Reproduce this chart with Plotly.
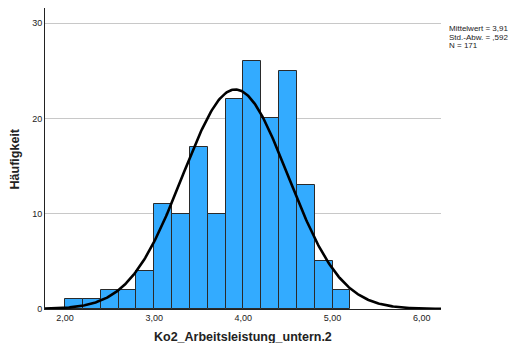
import numpy as np
import plotly.graph_objects as go

bin_starts = [2.0, 2.2, 2.4, 2.6, 2.8, 3.0, 3.2, 3.4, 3.6, 3.8, 4.0, 4.2, 4.4, 4.6, 4.8, 5.0]
counts = [1, 1, 2, 2, 4, 11, 10, 17, 10, 22, 26, 20, 25, 13, 5, 2]
bin_width = 0.2
mean = 3.91
sd = 0.592
n = 171
x_ticks = [2, 3, 4, 5, 6]
x_tick_labels = ["2,00", "3,00", "4,00", "5,00", "6,00"]
y_ticks = [0, 10, 20, 30]
stats_lines = ["Mittelwert = 3,91", "Std.-Abw. = ,592", "N = 171"]
x_title = "Ko2_Arbeitsleistung_untern.2"
y_title = "Häufigkeit"

x_range = [1.775, 6.217]
y_range = [0, 31.6]

centers = [s + bin_width / 2 for s in bin_starts]
xc = np.linspace(x_range[0], x_range[1], 400)
yc = n * bin_width / (sd * np.sqrt(2 * np.pi)) * np.exp(-0.5 * ((xc - mean) / sd) ** 2)

fig = go.Figure()
fig.add_trace(go.Bar(x=centers, y=counts, width=bin_width,
                     marker=dict(color="#33ABFF", line=dict(color="#2a2a2a", width=1)),
                     showlegend=False, hoverinfo="skip"))
fig.add_trace(go.Scatter(x=xc, y=yc, mode="lines", line=dict(color="black", width=2.6),
                         showlegend=False, hoverinfo="skip"))

annots = []
for i, t in enumerate(stats_lines):
    annots.append(dict(text=t, xref="paper", yref="paper", x=1.015, y=0.952 - i * 0.027,
                       xanchor="left", yanchor="top", align="left", showarrow=False,
                       font=dict(size=8, color="#222")))
annots.append(dict(text="<b>" + x_title + "</b>", xref="paper", yref="paper", x=0.5, y=-0.093,
                   xanchor="center", yanchor="middle", showarrow=False,
                   font=dict(size=12.5, color="#222")))
annots.append(dict(text="<b>" + y_title + "</b>", xref="paper", yref="paper", x=-0.076, y=0.5,
                   xanchor="center", yanchor="middle", showarrow=False, textangle=-90,
                   font=dict(size=12.5, color="#222")))

fig.update_layout(
    width=516, height=343,
    margin=dict(l=45, r=75, t=8, b=34, autoexpand=False),
    plot_bgcolor="white", paper_bgcolor="white",
    font=dict(family="Liberation Sans, Arial, sans-serif", color="#222"),
    bargap=0,
    xaxis=dict(range=x_range, tickvals=x_ticks, ticktext=x_tick_labels, showgrid=False,
               showline=True, linecolor="#222", linewidth=1, zeroline=False,
               tickfont=dict(size=9), ticks="", automargin=False),
    yaxis=dict(range=y_range, tickvals=y_ticks, showgrid=True, gridcolor="#c8c8c8", gridwidth=1,
               showline=True, linecolor="#222", linewidth=1, zeroline=False,
               tickfont=dict(size=9), ticks="", automargin=False),
    annotations=annots,
)

fig.write_html("out.html")
